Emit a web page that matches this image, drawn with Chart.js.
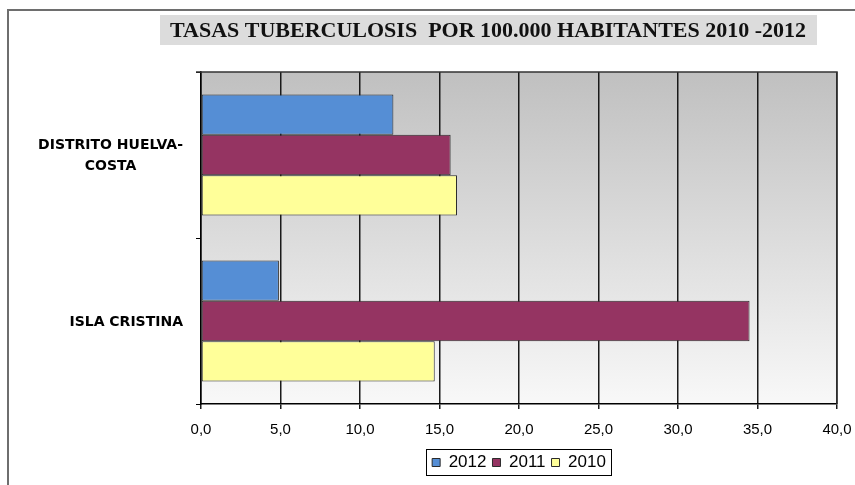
<!DOCTYPE html>
<html>
<head>
<meta charset="utf-8">
<script src="https://cdn.jsdelivr.net/npm/chart.js@4.4.1/dist/chart.umd.min.js"></script>
<style>
  html, body { margin: 0; padding: 0; background: #fff; }
  #wrap { width: 855px; height: 485px; position: relative; }
</style>
</head>
<body>
<div id="wrap"><canvas id="chart"></canvas></div>
<script>
const chartTitle = 'TASAS TUBERCULOSIS  POR 100.000 HABITANTES 2010 -2012';
const categories = [['DISTRITO HUELVA-', 'COSTA'], ['ISLA CRISTINA']];
const seriesNames = ['2012', '2011', '2010'];
const values2012 = [12.1, 4.9];
const values2011 = [15.7, 34.5];
const values2010 = [16.1, 14.7];
const xTicks = [0, 5, 10, 15, 20, 25, 30, 35, 40];
const seriesColors = ['#558ed5', '#953462', '#ffff99'];

// frame, title box and plot gradient
const backgroundPlugin = {
  id: 'backgroundPlugin',
  beforeDraw: chart => {
    const ctx = chart.ctx;
    const area = chart.chartArea;
    ctx.save();
    ctx.fillStyle = '#fff';
    ctx.fillRect(0, 0, chart.width, chart.height);

    ctx.strokeStyle = '#6e6e6e';
    ctx.lineWidth = 2;
    ctx.beginPath();
    ctx.moveTo(8, chart.height + 5);
    ctx.lineTo(8, 10);
    ctx.lineTo(chart.width + 5, 10);
    ctx.stroke();

    ctx.fillStyle = '#dcdcdc';
    ctx.fillRect(160, 15, 657, 30);
    ctx.font = 'bold 22px "Liberation Serif"';
    ctx.fillStyle = '#111';
    ctx.textAlign = 'center';
    ctx.textBaseline = 'middle';
    ctx.fillText(chartTitle, 488, 31);

    const grad = ctx.createLinearGradient(0, area.top, 0, area.bottom);
    grad.addColorStop(0, '#c0c0c0');
    grad.addColorStop(1, '#f8f8f8');
    ctx.fillStyle = grad;
    ctx.fillRect(area.left, area.top, area.right - area.left, area.bottom - area.top);
    ctx.restore();
  },
  afterDraw: chart => {
    const ctx = chart.ctx;
    const area = chart.chartArea;
    const yScale = chart.scales.y;
    ctx.save();
    // plot border top / right
    ctx.strokeStyle = '#333';
    ctx.lineWidth = 1.5;
    ctx.beginPath();
    ctx.moveTo(area.left - 5, area.top);
    ctx.lineTo(area.right, area.top);
    ctx.lineTo(area.right, area.bottom);
    ctx.stroke();

    // category labels: block right aligned, lines centred inside the block
    ctx.font = 'bold 14px "DejaVu Sans"';
    ctx.fillStyle = '#000';
    ctx.textAlign = 'center';
    ctx.textBaseline = 'middle';
    const lineH = 21;
    categories.forEach((lines, i) => {
      const cy = yScale.getPixelForTick(i) + 1;
      const w = Math.max(...lines.map(l => ctx.measureText(l).width));
      const cx = area.left - 18 - w / 2;
      lines.forEach((l, j) => {
        ctx.fillText(l, cx, cy + (j - (lines.length - 1) / 2) * lineH);
      });
    });

    // legend frame
    const boxes = chart.legend.legendHitBoxes;
    if (boxes && boxes.length) {
      const first = boxes[0];
      const last = boxes[boxes.length - 1];
      ctx.strokeStyle = '#000';
      ctx.lineWidth = 1;
      const l = Math.round(first.left) - 5.5;
      const r = Math.round(last.left + last.width) + 5.5;
      const t = Math.round(first.top) - 4.5;
      const b = Math.round(first.top + first.height) + 4.5;
      ctx.strokeRect(l, t, r - l, b - t);
    }
    ctx.restore();
  }
};

new Chart(document.getElementById('chart'), {
  type: 'bar',
  data: {
    labels: categories,
    datasets: [
      { label: seriesNames[0], data: values2012, backgroundColor: seriesColors[0] },
      { label: seriesNames[1], data: values2011, backgroundColor: seriesColors[1] },
      { label: seriesNames[2], data: values2010, backgroundColor: seriesColors[2] }
    ].map(ds => ({ ...ds, borderColor: '#2b2b2b', borderWidth: 1, borderSkipped: false,
      categoryPercentage: 0.73, barPercentage: 1 }))
  },
  options: {
    indexAxis: 'y',
    responsive: true,
    maintainAspectRatio: false,
    animation: false,
    layout: { padding: { top: 72, right: 18, bottom: 4, left: 0 } },
    scales: {
      x: {
        min: 0,
        max: 40,
        afterBuildTicks: scale => { scale.ticks = xTicks.map(v => ({ value: v })); },
        afterFit: scale => { scale.height = 44; scale.paddingRight = 0; },
        border: { color: '#000', width: 1.5 },
        grid: { color: '#1a1a1a', lineWidth: 1.5, tickLength: 5, drawTicks: true },
        ticks: {
          color: '#000',
          padding: 12,
          maxRotation: 0,
          font: { family: '"Liberation Sans Narrow", "Liberation Sans"', size: 15 },
          callback: v => v.toFixed(1).replace('.', ',')
        }
      },
      y: {
        afterFit: scale => { scale.width = 201; },
        border: { color: '#000', width: 1.5 },
        grid: { drawOnChartArea: false, color: '#000', tickLength: 5, offset: true },
        ticks: { display: false }
      }
    },
    plugins: {
      legend: {
        position: 'bottom',
        fullSize: false,
        labels: {
          color: '#000',
          boxWidth: 8,
          boxHeight: 8,
          padding: 6,
          font: { family: '"Liberation Sans"', size: 17 }
        }
      },
      title: { display: false },
      tooltip: { enabled: false }
    }
  },
  plugins: [backgroundPlugin]
});
</script>
</body>
</html>
